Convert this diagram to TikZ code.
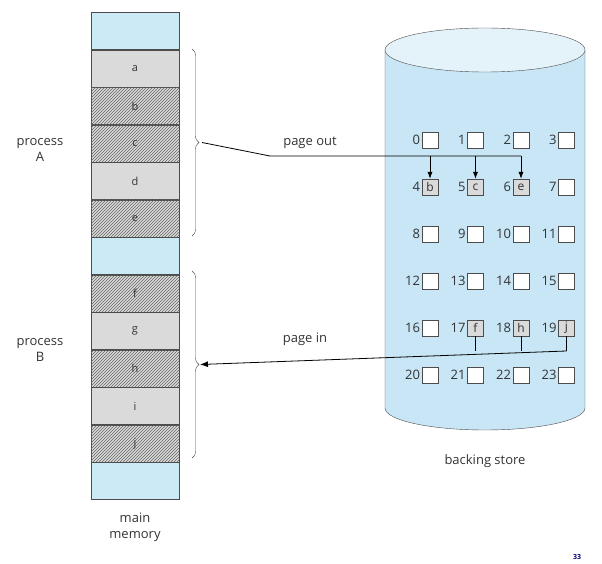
\documentclass[tikz,border=0pt]{standalone}
\usepackage{fontspec}
\setmainfont{Open Sans}
\usetikzlibrary{patterns,arrows.meta,decorations.pathreplacing,calc}
\definecolor{memblue}{RGB}{204,234,246}
\definecolor{memgray}{RGB}{218,218,218}
\definecolor{storeblue}{RGB}{200,230,245}
\tikzset{
  cell/.style={draw=black!70, fill=memgray, minimum width=88pt, minimum height=37.5pt, inner sep=0pt, font=\fontsize{11}{13}\selectfont, text=black!80},
  freecell/.style={cell, fill=memblue},
  pcell/.style={cell, postaction={pattern=north east lines, pattern color=black!60}},
  slot/.style={draw=black!70, fill=white, minimum size=16pt, inner sep=0pt, font=\fontsize{12}{14}\selectfont, text=black!80},
  used/.style={slot, fill=memgray},
  num/.style={anchor=east, inner sep=1.5pt, font=\fontsize{13}{15}\selectfont, text=black!80},
  lbl/.style={font=\fontsize{13}{16}\selectfont, text=black!80, align=center},
}
\begin{document}
\begin{tikzpicture}[x=1pt,y=-1pt]
	\useasboundingbox (0,0) rectangle (602,564);
	% main memory
	\foreach \name/\txt/\sty [count=\i from 0] in {t0//freecell, a/a/cell, b/b/pcell, c/c/pcell, d/d/cell, e/e/pcell, t1//freecell, f/f/pcell, g/g/cell, h/h/pcell, i/i/cell, j/j/pcell, t2//freecell}
		\node[\sty, minimum height=37pt] (m\name) at (135,{31+37.5*\i}) {\txt};
	\node[lbl] (mainmem) at (135,527) {main\\memory};
	\draw[decorate, decoration={brace, amplitude=7pt}, black!70] (192,49) -- (192,236) coordinate[pos=0.5] (braceA);
	\draw[decorate, decoration={brace, amplitude=7pt}, black!70] (192,271) -- (192,458) coordinate[pos=0.5] (braceB);
	\node[lbl] (procA) at (40,150) {process\\A};
	\node[lbl] (procB) at (40,350) {process\\B};
	% backing store
	\fill[storeblue] (385,50) -- (385,408) arc[start angle=180, end angle=0, x radius=100, y radius=22] -- (585,50) -- cycle;
	\draw[black!70] (385,50) -- (385,408) arc[start angle=180, end angle=0, x radius=100, y radius=22] -- (585,50);
	\draw[black!70, fill=storeblue!50] (485,50) ellipse[x radius=100, y radius=22];
	\node[lbl] (store) at (485,461) {backing store};
	\foreach \r in {0,...,5}
		\foreach \c in {0,...,3} {
			\pgfmathtruncatemacro{\n}{4*\r+\c}
			\node[slot] (s\n) at ({430+45.5*\c},{140+47*\r}) {};
			\node[num] at (s\n.west) {\n};
		}
	\node[used] at (s4) {b};
	\node[used] at (s5) {c};
	\node[used] at (s6) {e};
	\node[used] at (s17) {f};
	\node[used] at (s18) {h};
	\node[used] at (s19) {j};
	% page out
	\coordinate (outbend) at (270,156);
	\draw[thick] ($(braceA)+(10,0)$) -- (outbend) -- (s6 |- outbend);
	\foreach \n in {4,5,6}
		\draw[thick, -{Latex[length=7pt]}] (s\n |- outbend) -- (s\n.north);
	\node[lbl] (pageout) at (310,143) {page out};
	% page in
	\coordinate (inbar) at (s17 |- 0,351);
	\foreach \n in {17,18,19}
		\draw[thick] (s\n.south) -- (s\n |- inbar);
	\draw[thick, -{Latex[length=8pt]}] (s19 |- inbar) -- ($(braceB)+(8,0)$);
	\node[lbl] (pagein) at (305,339) {page in};
	\node[font=\fontsize{7}{8}\selectfont\bfseries, text=blue!50!black] (pgnum) at (577,557) {33};
\end{tikzpicture}
\end{document}
